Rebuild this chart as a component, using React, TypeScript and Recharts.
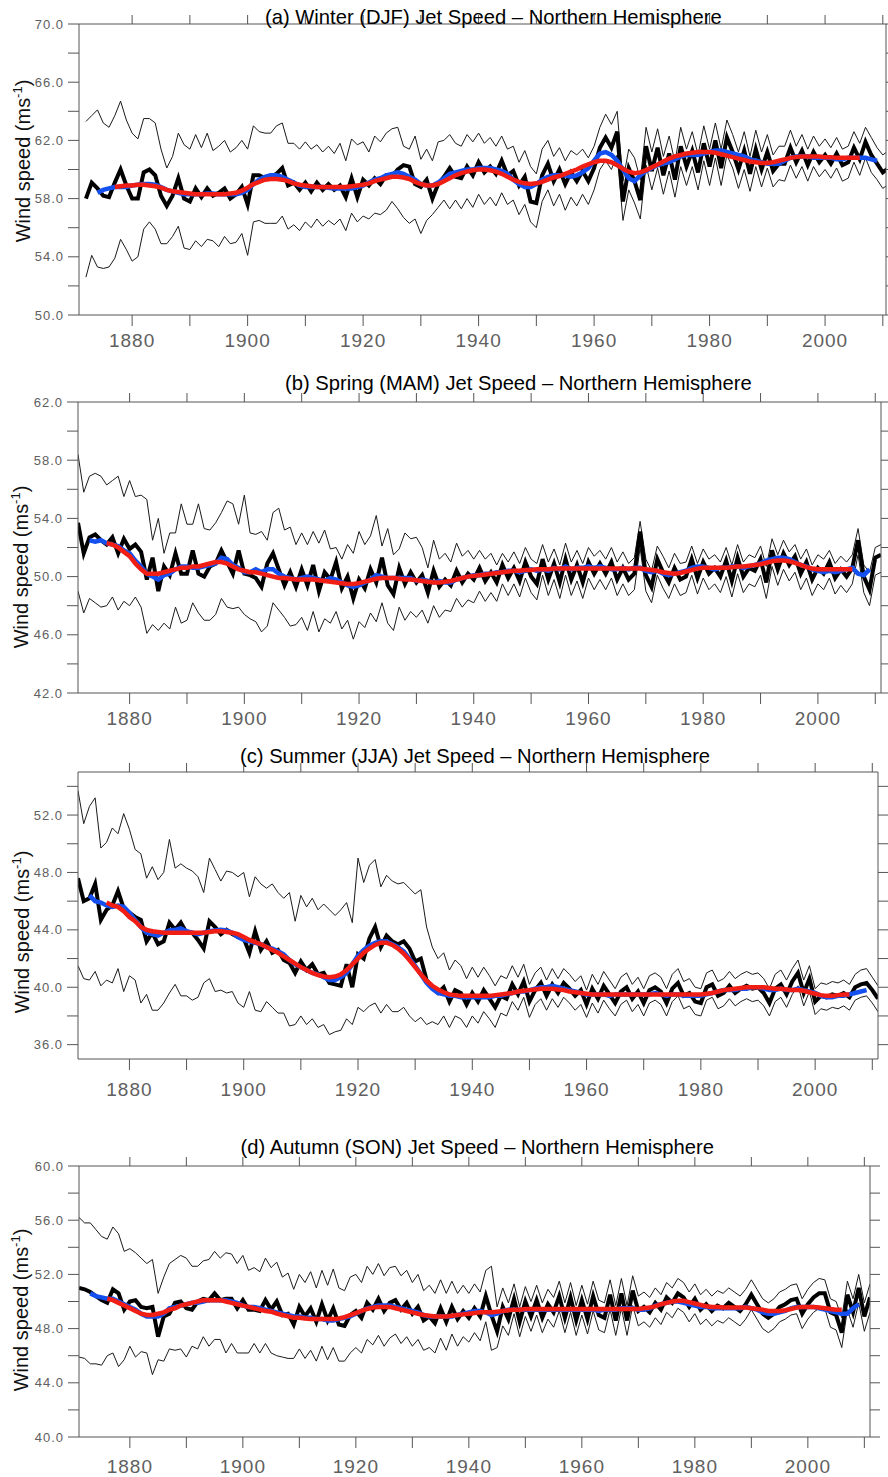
import React from 'react';
import { LineChart, Line, XAxis, YAxis } from 'recharts';

const FONT = "'Liberation Sans', Arial, Helvetica, sans-serif";
const FIRST_YEAR = 1871;
const LAST_YEAR = 2011;

const X_TICKS = [1880, 1890, 1900, 1910, 1920, 1930, 1940, 1950, 1960, 1970, 1980, 1990, 2000, 2010];
const X_LABELS = [1880, 1900, 1920, 1940, 1960, 1980, 2000];

const Y_TICKS_A = [50, 52, 54, 56, 58, 60, 62, 64, 66, 68, 70];
const Y_LABELS_A = [50, 54, 58, 62, 66, 70];
const Y_TICKS_B = [42, 44, 46, 48, 50, 52, 54, 56, 58, 60, 62];
const Y_LABELS_B = [42, 46, 50, 54, 58, 62];
const Y_TICKS_C = [36, 38, 40, 42, 44, 46, 48, 50, 52, 54];
const Y_LABELS_C = [36, 40, 44, 48, 52];
const Y_TICKS_D = [40, 42, 44, 46, 48, 50, 52, 54, 56, 58, 60];
const Y_LABELS_D = [40, 44, 48, 52, 56, 60];

const TITLE_A = '(a) Winter (DJF) Jet Speed \u2013 Northern Hemisphere';
const TITLE_B = '(b) Spring (MAM) Jet Speed \u2013 Northern Hemisphere';
const TITLE_C = '(c) Summer (JJA) Jet Speed \u2013 Northern Hemisphere';
const TITLE_D = '(d) Autumn (SON) Jet Speed \u2013 Northern Hemisphere';

// ---------------- Panel (a) Winter ----------------
const A_START = 1872;
const A_BLACK = [
  58.0, 59.1, 58.7, 58.2, 58.1, 59.1, 60.0, 58.9,
  58.0, 58.0, 59.8, 60.0, 59.6, 58.2, 57.5, 58.2, 59.4, 58.0,
  57.8, 58.7, 58.1, 58.7, 58.2, 58.4, 58.7, 58.0, 58.3, 58.8,
  57.6, 59.6, 59.6, 59.4, 59.5, 59.7, 60.1, 58.9, 59.1, 58.6,
  59.1, 58.5, 59.1, 58.6, 59.0, 58.6, 58.9, 58.1, 59.4, 58.1,
  59.3, 58.9, 59.4, 59.0, 59.6, 59.5, 60.0, 60.3, 60.2, 59.0,
  58.8, 59.3, 58.0, 59.0, 59.5, 60.1, 59.5, 59.4, 60.2, 59.6,
  60.5, 59.8, 60.2, 59.7, 60.6, 59.6, 59.9, 58.9, 59.5, 57.8,
  57.7, 59.6, 60.4, 59.2, 60.0, 59.0, 59.8, 59.2, 59.9, 59.2,
  60.1, 61.5, 62.2, 61.5, 62.6, 57.8, 60.1, 59.2, 57.9, 61.6,
  59.9, 61.5, 59.6, 61.1, 59.3, 61.6, 60.2, 61.3, 59.8, 61.8,
  60.2, 62.0, 60.1, 62.2, 61.2, 60.0, 61.3, 59.7, 61.4, 60.0,
  61.2, 59.9, 60.4, 60.4, 61.5, 60.5, 61.3, 60.3, 61.2, 60.5,
  61.0, 60.4, 61.1, 60.3, 60.5, 61.5, 60.7, 61.9, 61.0, 60.4,
  59.8, 60.1,
];
const A_UPPER = [
  63.3, 63.7, 64.1, 63.2, 62.9, 63.7, 64.7, 63.4,
  62.5, 62.1, 63.5, 63.5, 63.2, 61.4, 60.1, 60.9, 62.5, 61.7,
  61.4, 62.4, 61.5, 62.5, 61.3, 61.6, 62.0, 61.2, 61.5, 62.0,
  61.4, 63.0, 62.6, 62.5, 62.5, 63.0, 63.2, 61.8, 61.8, 61.4,
  61.9, 61.4, 61.7, 61.2, 61.6, 61.1, 61.8, 60.6, 62.1, 61.7,
  61.9, 61.2, 62.3, 61.9, 62.5, 62.8, 62.9, 61.6, 61.4, 62.3,
  60.7, 61.4, 60.6, 61.9, 62.0, 62.4, 61.8, 61.6, 62.4, 61.9,
  62.5, 61.8, 62.2, 61.6, 62.3, 61.4, 61.6, 60.5, 61.3, 60.2,
  59.7, 61.4, 62.0, 60.9, 61.5, 60.6, 61.3, 61.0, 61.4, 60.8,
  61.6, 62.9, 63.8, 63.1, 64.0, 59.2, 61.4, 60.8, 59.3, 62.9,
  61.2, 62.8, 60.9, 62.3, 60.5, 62.9, 61.4, 62.6, 61.0, 63.0,
  61.4, 63.2, 61.4, 63.4, 62.4, 61.2, 62.6, 60.9, 62.7, 61.2,
  62.4, 61.0, 61.6, 61.6, 62.7, 61.6, 62.4, 61.4, 62.3, 61.6,
  62.1, 61.5, 62.2, 61.4, 61.6, 62.6, 61.8, 62.9, 62.2, 61.5,
  61.0, 61.3,
];
const A_LOWER = [
  52.6, 54.1, 53.3, 53.2, 53.3, 53.9, 55.2, 54.5,
  53.7, 54.0, 55.9, 56.4, 55.9, 54.9, 54.9, 55.4, 56.1, 54.6,
  54.5, 55.1, 54.7, 55.2, 55.1, 54.7, 55.4, 54.9, 55.0, 55.6,
  54.1, 56.4, 56.5, 56.3, 56.3, 56.3, 56.8, 55.9, 56.2, 55.8,
  56.4, 56.0, 56.6, 56.1, 56.5, 56.2, 56.6, 55.8, 57.0, 56.4,
  56.8, 56.6, 57.0, 56.9, 57.2, 57.8, 57.3, 56.7, 56.3, 56.6,
  55.6, 56.5, 56.9, 57.4, 57.9, 57.3, 57.9, 57.3, 58.0, 57.4,
  58.3, 57.6, 58.1, 57.5, 58.4, 57.6, 57.9, 56.9, 57.6, 56.4,
  56.0, 57.8, 58.6, 57.5, 58.3, 57.2, 58.1, 57.5, 58.3, 57.6,
  58.6, 60.0, 60.6, 60.0, 61.0, 56.5, 58.6, 57.7, 56.6, 60.3,
  58.6, 60.1, 58.3, 59.9, 58.1, 60.2, 58.9, 60.2, 58.6, 60.6,
  58.9, 60.8, 58.9, 61.0, 60.1, 58.7, 60.0, 58.5, 60.2, 58.8,
  60.1, 58.8, 59.3, 59.2, 60.3, 59.4, 60.2, 59.2, 60.2, 59.5,
  60.0, 59.4, 60.1, 59.2, 59.4, 60.5, 59.6, 60.8, 59.8, 59.3,
  58.7, 59.0,
];
const A_BLUE_START = 1874;
const A_BLUE = [
  58.4, 58.6, 58.7, 58.8, 58.8, 58.8,
  58.9, 58.95, 59.0, 59.0, 58.95, 58.8, 58.6, 58.5, 58.4, 58.3,
  58.3, 58.3, 58.3, 58.35, 58.35, 58.3, 58.3, 58.3, 58.3, 58.4,
  58.6, 59.0, 59.3, 59.5, 59.6, 59.6, 59.5, 59.3, 59.1, 58.9,
  58.8, 58.8, 58.8, 58.8, 58.75, 58.7, 58.7, 58.7, 58.7, 58.8,
  58.9, 59.1, 59.3, 59.4, 59.6, 59.7, 59.8, 59.7, 59.5, 59.3,
  59.0, 58.9, 58.9, 59.1, 59.4, 59.7, 59.8, 59.9, 60.0, 60.0,
  60.1, 60.1, 60.1, 60.0, 59.9, 59.7, 59.3, 59.0, 58.8, 58.8,
  59.0, 59.3, 59.5, 59.6, 59.6, 59.6, 59.5, 59.6, 59.8, 60.1,
  60.6, 61.1, 61.2, 61.0, 60.6, 60.0, 59.4, 59.2, 59.6, 59.9,
  60.1, 60.3, 60.4, 60.5, 60.7, 60.9, 61.0, 61.0, 61.0, 61.1,
  61.2, 61.3, 61.3, 61.2, 61.1, 61.0, 60.9, 60.7, 60.6, 60.5,
  60.4, 60.4, 60.4, 60.6, 60.8, 60.9, 60.9, 60.9, 60.8, 60.8,
  60.8, 60.8, 60.7, 60.7, 60.8, 60.8, 60.8, 60.8, 60.7, 60.6,
];
const A_RED_START = 1877;
const A_RED = [
  58.8, 58.85, 58.9,
  58.9, 58.95, 58.95, 58.9, 58.85, 58.75, 58.6, 58.5, 58.45, 58.4,
  58.35, 58.3, 58.3, 58.3, 58.3, 58.3, 58.3, 58.35, 58.4, 58.55,
  58.75, 59.0, 59.15, 59.3, 59.35, 59.35, 59.3, 59.2, 59.05, 58.95,
  58.9, 58.85, 58.8, 58.8, 58.8, 58.8, 58.8, 58.8, 58.85, 58.9,
  58.95, 59.05, 59.2, 59.3, 59.4, 59.5, 59.5, 59.45, 59.35, 59.15,
  59.0, 58.9, 58.9, 59.0, 59.2, 59.4, 59.6, 59.75, 59.85, 59.95,
  60.0, 60.0, 59.95, 59.85, 59.7, 59.5, 59.3, 59.15, 59.05, 59.0,
  59.05, 59.15, 59.3, 59.45, 59.55, 59.7, 59.85, 60.0, 60.2, 60.35,
  60.5, 60.6, 60.6, 60.5, 60.3, 60.05, 59.85, 59.75, 59.8, 59.95,
  60.15, 60.35, 60.55, 60.75, 60.9, 61.0, 61.1, 61.15, 61.2, 61.2,
  61.2, 61.15, 61.05, 60.95, 60.85, 60.75, 60.65, 60.55, 60.5, 60.45,
  60.45, 60.5, 60.6, 60.7, 60.8, 60.85, 60.9, 60.9, 60.9, 60.9,
  60.85, 60.85, 60.8, 60.8, 60.8, 60.8, 60.8,
];

// ---------------- Panel (b) Spring ----------------
const B_START = 1871;
const B_BLACK = [
  53.7, 51.6, 52.7, 52.9, 52.5, 52.2, 52.7, 51.6, 52.6,
  51.9, 52.2, 51.7, 49.8, 51.3, 49.0, 50.7, 50.1, 51.6, 50.2,
  50.2, 51.8, 50.2, 50.0, 50.7, 50.9, 51.8, 51.0, 50.2, 51.8,
  50.2, 50.1, 49.9, 49.3, 50.9, 51.6, 50.5, 49.4, 50.3, 49.3,
  50.5, 49.4, 50.8, 49.0, 50.3, 49.8, 51.0, 49.2, 50.0, 48.5,
  49.8, 49.2, 50.5, 49.6, 51.3, 49.4, 48.8, 50.6, 49.5, 50.3,
  49.6, 50.1, 48.9, 50.4, 49.3, 49.8, 49.4, 50.4, 49.6, 50.2,
  49.8, 50.6, 49.7, 50.3, 49.6, 50.8, 49.9, 50.6, 49.7, 51.0,
  50.0, 49.5, 51.2, 49.8, 50.9, 49.6, 51.2, 49.8, 50.8, 49.6,
  51.0, 50.2, 50.9, 50.2, 51.0, 49.8, 50.6, 49.8, 50.2, 53.1,
  50.1, 49.3, 51.2, 50.3, 49.6, 50.6, 49.8, 50.0, 51.2, 49.9,
  51.0, 50.2, 50.6, 50.0, 51.1, 49.7, 51.3, 50.0, 50.6, 50.4,
  51.2, 49.6, 51.8, 50.5, 51.6, 50.8, 51.4, 50.2, 51.0, 49.8,
  50.6, 50.2, 51.0, 49.9, 50.5, 50.0, 50.6, 52.5, 50.0, 49.1,
  51.3, 51.5,
];
const B_UPPER = [
  58.4, 55.8, 56.9, 57.1, 56.9, 56.3, 56.6, 56.9, 55.5,
  56.6, 55.5, 55.6, 55.3, 52.5, 54.0, 51.6, 53.0, 53.0, 55.0,
  53.6, 53.6, 55.0, 53.3, 53.2, 53.7, 54.4, 55.2, 55.0, 53.6,
  55.6, 53.0, 52.9, 53.1, 52.5, 54.4, 54.7, 53.2, 53.4, 52.2,
  53.0, 52.2, 53.1, 52.3, 53.2, 51.9, 52.0, 51.2, 52.2, 51.6,
  53.1, 52.2, 52.8, 54.2, 52.1, 53.3, 51.5, 51.9, 53.0, 52.6,
  52.7, 52.0, 50.6, 52.5, 51.2, 51.6, 51.0, 52.3, 51.4, 51.8,
  51.2, 51.8, 51.2, 51.6, 50.8, 51.6, 51.0, 51.7, 50.9, 52.0,
  51.2, 50.9, 52.2, 51.0, 51.9, 50.8, 52.3, 51.0, 51.8, 50.9,
  52.0, 51.4, 51.8, 51.2, 52.0, 51.0, 51.7, 50.9, 51.3, 53.8,
  51.2, 50.4, 52.1, 51.4, 50.6, 51.6, 50.9, 51.0, 52.1, 50.9,
  51.9, 51.2, 51.5, 51.0, 52.0, 50.8, 52.2, 51.0, 51.5, 51.3,
  52.1, 50.7, 52.6, 51.5, 52.5, 51.7, 52.2, 51.2, 51.9, 50.8,
  51.5, 51.2, 51.8, 50.9, 51.4, 51.0, 51.5, 53.3, 50.8, 50.3,
  52.0, 52.2,
];
const B_LOWER = [
  49.0, 47.5, 48.5, 48.2, 47.9, 48.0, 48.6, 47.7, 48.3,
  48.0, 48.6, 47.9, 46.1, 46.7, 46.3, 46.8, 46.4, 47.9, 46.8,
  47.0, 48.2, 47.5, 47.0, 47.0, 47.4, 48.5, 47.9, 47.8, 47.9,
  47.4, 47.1, 46.9, 46.2, 46.6, 48.2, 47.7, 47.2, 46.6, 46.7,
  47.2, 46.3, 47.6, 46.2, 47.1, 46.8, 47.6, 46.4, 47.0, 45.7,
  46.9, 46.5, 47.5, 46.9, 48.2, 46.8, 46.3, 47.9, 47.0, 47.6,
  47.2, 47.7, 46.8, 48.0, 47.2, 47.7, 47.6, 48.5, 47.9, 48.4,
  48.2, 49.0, 48.3, 48.9, 48.3, 49.5, 48.7, 49.5, 48.6, 49.9,
  48.9, 48.4, 50.1, 48.7, 49.8, 48.5, 50.1, 48.7, 49.7, 48.5,
  49.9, 49.1, 49.8, 49.1, 49.9, 48.7, 49.5, 48.7, 49.1, 52.0,
  49.0, 48.2, 50.1, 49.2, 48.5, 49.5, 48.7, 48.9, 50.1, 48.8,
  49.9, 49.1, 49.5, 48.9, 50.0, 48.6, 50.2, 48.9, 49.5, 49.3,
  50.1, 48.5, 50.7, 49.4, 50.5, 49.7, 50.3, 49.1, 49.9, 48.7,
  49.5, 49.1, 49.9, 48.8, 49.4, 48.9, 49.5, 51.5, 48.9, 48.0,
  50.1, 50.3,
];
const B_BLUE_START = 1873;
const B_BLUE = [
  52.5, 52.4, 52.5, 52.3, 52.2, 52.1, 51.8,
  51.6, 51.1, 50.7, 50.2, 50.0, 49.8, 50.1, 50.2, 50.5, 50.7,
  50.7, 50.6, 50.6, 50.7, 50.8, 50.9, 51.3, 51.2, 50.8, 50.6,
  50.3, 50.3, 50.5, 50.3, 50.5, 50.5, 50.2, 50.0, 49.9, 49.8,
  49.9, 50.0, 49.9, 49.8, 49.7, 49.9, 49.8, 49.6, 49.4, 49.3,
  49.4, 49.6, 49.8, 50.1, 50.0, 49.9, 49.9, 49.9, 49.9, 49.9,
  49.7, 49.8, 49.7, 49.6, 49.7, 49.6, 49.6, 49.8, 49.9, 50.0,
  50.1, 50.1, 50.2, 50.2, 50.3, 50.3, 50.4, 50.4, 50.3, 50.4,
  50.5, 50.4, 50.5, 50.4, 50.6, 50.5, 50.7, 50.5, 50.6, 50.6,
  50.7, 50.6, 50.7, 50.6, 50.5, 50.5, 50.6, 50.5, 50.6, 50.6,
  50.4, 50.3, 50.4, 50.2, 50.1, 50.2, 50.3, 50.4, 50.6, 50.7,
  50.7, 50.6, 50.5, 50.6, 50.6, 50.7, 50.7, 50.6, 50.7, 50.8,
  50.9, 51.1, 51.2, 51.3, 51.3, 51.2, 51.0, 50.8, 50.7, 50.5,
  50.4, 50.3, 50.4, 50.3, 50.4, 50.5, 50.6, 50.2, 50.1, 50.5,
];
const B_RED_START = 1876;
const B_RED = [
  52.3, 52.2, 52.0, 51.7,
  51.4, 50.9, 50.5, 50.2, 50.2, 50.2, 50.3, 50.4, 50.5, 50.6,
  50.6, 50.7, 50.7, 50.8, 50.9, 51.0, 51.0, 50.9, 50.7, 50.5,
  50.4, 50.3, 50.3, 50.2, 50.1, 50.0, 49.9, 49.9, 49.85, 49.8,
  49.8, 49.8, 49.8, 49.75, 49.7, 49.65, 49.6, 49.55, 49.5, 49.5,
  49.55, 49.65, 49.75, 49.85, 49.9, 49.9, 49.9, 49.85, 49.8, 49.8,
  49.75, 49.7, 49.65, 49.6, 49.6, 49.65, 49.7, 49.8, 49.9, 50.0,
  50.05, 50.1, 50.15, 50.2, 50.25, 50.3, 50.35, 50.4, 50.4, 50.45,
  50.45, 50.5, 50.5, 50.5, 50.55, 50.55, 50.55, 50.55, 50.55, 50.55,
  50.55, 50.55, 50.55, 50.55, 50.55, 50.55, 50.55, 50.55, 50.55, 50.55,
  50.5, 50.45, 50.4, 50.3, 50.25, 50.2, 50.25, 50.35, 50.45, 50.55,
  50.6, 50.6, 50.6, 50.6, 50.6, 50.65, 50.7, 50.7, 50.75, 50.8,
  50.85, 50.95, 51.05, 51.1, 51.1, 51.05, 50.95, 50.8, 50.65, 50.55,
  50.5, 50.5, 50.5, 50.5, 50.5, 50.5, 50.5,
];

// ---------------- Panel (c) Summer ----------------
const C_START = 1871;
const C_BLACK = [
  47.6, 46.0, 46.2, 47.2, 44.7, 45.4, 45.7, 46.7, 45.5,
  45.2, 44.9, 44.7, 43.2, 43.8, 43.0, 43.2, 44.5, 44.0, 44.5,
  43.8, 43.8, 43.3, 42.7, 44.6, 44.2, 43.7, 44.0, 43.7, 43.5,
  43.4, 42.4, 43.9, 42.6, 43.2, 42.4, 42.6, 41.9, 41.7, 41.0,
  41.8, 41.2, 41.6, 40.9, 41.0, 40.3, 40.2, 40.1, 41.6, 40.0,
  42.3, 42.0, 43.4, 44.2, 42.8, 43.6, 43.2, 43.0, 43.2, 42.7,
  41.8, 42.0, 40.5, 40.0, 39.6, 40.0, 39.0, 39.8, 39.6, 38.8,
  39.6, 39.0, 39.8, 39.2, 38.6, 39.4, 39.2, 40.2, 39.5, 40.4,
  39.0, 39.8, 40.3, 39.4, 40.2, 39.6, 40.3, 39.9, 39.4, 39.8,
  38.8, 39.9, 39.2, 40.1, 39.5, 38.9, 39.7, 40.0, 39.2, 39.7,
  38.9, 39.8, 40.0, 39.7, 38.9, 39.9, 40.3, 39.4, 39.6, 39.0,
  38.9, 40.0, 40.2, 39.4, 39.6, 40.1, 39.6, 39.9, 40.1, 39.9,
  40.0, 39.6, 38.9, 39.9, 40.2, 39.5, 40.4, 41.0, 39.6, 40.6,
  39.0, 39.4, 39.3, 39.5, 39.4, 39.6, 39.3, 40.0, 40.2, 40.3,
  39.8, 39.2,
];
const C_UPPER = [
  53.7, 51.4, 52.6, 53.2, 49.7, 50.1, 51.1, 50.7, 52.1,
  51.0, 49.6, 49.3, 47.6, 48.4, 47.5, 48.0, 50.3, 48.3, 48.6,
  48.3, 48.1, 47.7, 46.6, 49.0, 48.2, 47.4, 48.1, 48.0, 47.7,
  48.0, 46.3, 47.7, 47.2, 46.9, 47.2, 46.6, 46.2, 46.6, 44.6,
  46.4, 45.6, 46.2, 45.4, 45.8, 45.4, 45.0, 45.4, 45.9, 44.5,
  49.0, 47.3, 48.5, 48.9, 47.0, 47.8, 47.4, 47.2, 47.3, 46.9,
  46.5, 46.8, 44.2, 42.8, 42.0, 42.4, 41.2, 41.9, 41.5, 40.6,
  41.4, 40.7, 41.4, 40.8, 40.1, 40.8, 40.6, 41.5, 40.7, 41.6,
  40.2, 41.0, 41.4, 40.5, 41.3, 40.6, 41.3, 40.9, 40.4, 40.8,
  39.8, 40.9, 40.2, 41.1, 40.5, 39.9, 40.7, 41.0, 40.2, 40.7,
  39.9, 40.8, 41.0, 40.7, 39.9, 40.9, 41.3, 40.4, 40.6, 40.0,
  39.9, 41.0, 41.2, 40.4, 40.6, 41.1, 40.6, 40.9, 41.1, 40.9,
  41.0, 40.6, 39.9, 40.9, 41.2, 40.5, 41.3, 41.9, 40.5, 41.5,
  39.9, 40.3, 40.2, 40.4, 40.3, 40.5, 40.2, 40.9, 41.2, 41.3,
  40.7, 40.1,
];
const C_LOWER = [
  41.5, 40.6, 40.5, 41.1, 40.1, 40.5, 40.3, 41.3, 39.7,
  40.8, 40.5, 38.9, 39.5, 38.4, 38.4, 38.9, 39.6, 40.2, 39.4,
  39.4, 39.1, 39.3, 40.3, 40.6, 39.7, 39.8, 39.6, 39.7, 38.9,
  38.6, 39.7, 38.4, 38.3, 39.0, 38.6, 38.2, 38.2, 37.3, 37.4,
  38.0, 37.4, 37.8, 37.2, 37.4, 36.7, 36.9, 37.0, 37.8, 37.4,
  38.6, 38.3, 38.7, 38.9, 38.2, 38.8, 38.3, 38.3, 38.6, 38.0,
  37.6, 37.9, 37.4, 37.6, 37.4, 38.0, 37.2, 38.0, 37.8, 37.2,
  38.0, 37.5, 38.3, 37.8, 37.2, 38.2, 38.0, 39.0, 38.4, 39.3,
  37.9, 38.8, 39.2, 38.4, 39.2, 38.6, 39.3, 38.9, 38.4, 38.8,
  37.9, 38.9, 38.2, 39.1, 38.5, 38.0, 38.8, 39.1, 38.3, 38.8,
  38.0, 38.9, 39.1, 38.8, 38.0, 39.0, 39.4, 38.5, 38.7, 38.1,
  38.0, 39.1, 39.3, 38.5, 38.7, 39.2, 38.7, 39.0, 39.2, 39.0,
  39.1, 38.7, 38.0, 39.0, 39.3, 38.6, 39.5, 40.1, 38.7, 39.7,
  38.1, 38.5, 38.4, 38.6, 38.5, 38.7, 38.4, 39.1, 39.3, 39.4,
  38.9, 38.3,
];
const C_BLUE_START = 1873;
const C_BLUE = [
  46.4, 46.0, 45.9, 45.7, 45.6, 45.7, 45.6,
  45.2, 44.7, 44.2, 43.8, 43.7, 43.6, 43.8, 43.95, 44.0, 44.1,
  43.9, 43.8, 43.7, 43.8, 43.9, 43.95, 44.0, 43.95, 43.8, 43.5,
  43.3, 43.2, 43.1, 43.0, 42.8, 42.7, 42.5, 42.3, 41.9, 41.6,
  41.4, 41.2, 41.0, 40.9, 40.7, 40.5, 40.5, 40.7, 41.0, 41.6,
  42.2, 42.6, 42.9, 43.1, 43.2, 43.2, 43.0, 42.8, 42.5, 42.0,
  41.5, 40.9, 40.3, 39.9, 39.6, 39.5, 39.4, 39.4, 39.3, 39.3,
  39.3, 39.3, 39.3, 39.3, 39.4, 39.4, 39.5, 39.6, 39.7, 39.7,
  39.8, 39.9, 40.0, 40.0, 40.1, 40.0, 39.9, 39.8, 39.7, 39.6,
  39.5, 39.5, 39.5, 39.5, 39.4, 39.5, 39.5, 39.5, 39.5, 39.5,
  39.5, 39.5, 39.6, 39.5, 39.4, 39.5, 39.5, 39.4, 39.4, 39.4,
  39.4, 39.5, 39.6, 39.7, 39.8, 39.8, 39.8, 39.9, 39.9, 40.0,
  40.0, 39.9, 39.8, 39.8, 39.9, 39.8, 39.8, 39.9, 39.8, 39.7,
  39.6, 39.4, 39.3, 39.3, 39.4, 39.4, 39.5, 39.6, 39.7, 39.8,
];
const C_RED_START = 1876;
const C_RED = [
  45.9, 45.7, 45.6, 45.3,
  44.9, 44.6, 44.2, 44.0, 43.9, 43.85, 43.8, 43.8, 43.8, 43.8,
  43.8, 43.8, 43.8, 43.8, 43.85, 43.9, 43.9, 43.85, 43.8, 43.7,
  43.5, 43.3, 43.15, 43.0, 42.8, 42.6, 42.4, 42.15, 41.9, 41.65,
  41.4, 41.2, 41.0, 40.85, 40.75, 40.7, 40.75, 40.9, 41.2, 41.6,
  42.0, 42.4, 42.7, 42.95, 43.1, 43.1, 42.95, 42.7, 42.35, 41.9,
  41.4, 40.9, 40.45, 40.1, 39.85, 39.65, 39.5, 39.45, 39.4, 39.4,
  39.4, 39.4, 39.4, 39.4, 39.45, 39.5, 39.55, 39.6, 39.7, 39.75,
  39.8, 39.85, 39.9, 39.9, 39.9, 39.85, 39.8, 39.7, 39.65, 39.6,
  39.55, 39.5, 39.5, 39.5, 39.5, 39.5, 39.5, 39.5, 39.5, 39.5,
  39.5, 39.5, 39.5, 39.5, 39.5, 39.5, 39.5, 39.5, 39.5, 39.5,
  39.5, 39.55, 39.6, 39.7, 39.8, 39.85, 39.9, 39.95, 40.0, 40.0,
  40.0, 40.0, 39.95, 39.9, 39.9, 39.85, 39.8, 39.8, 39.75, 39.65,
  39.55, 39.45, 39.4, 39.4, 39.45, 39.5, 39.5,
];

// ---------------- Panel (d) Autumn ----------------
const D_START = 1871;
const D_BLACK = [
  51.0, 50.9, 50.7, 50.4, 50.1, 49.9, 50.9, 50.6, 49.4,
  50.0, 50.1, 49.6, 49.5, 49.6, 47.4, 48.9, 49.1, 49.9, 50.0,
  49.5, 49.4, 50.0, 50.2, 50.1, 50.6, 50.1, 50.2, 50.2, 49.5,
  50.1, 49.4, 49.4, 49.3, 50.1, 49.4, 50.0, 49.0, 49.1, 48.3,
  49.6, 48.9, 49.5, 48.5, 49.8, 48.6, 49.5, 48.3, 48.2, 49.0,
  49.3, 48.8, 49.9, 49.4, 50.2, 49.3, 49.9, 50.1, 49.4, 49.9,
  49.1, 49.6, 48.6, 48.9, 48.4, 49.5, 48.5, 49.6, 48.7, 49.3,
  48.8, 49.5, 48.9, 50.4, 49.0, 47.8, 49.6, 48.7, 50.2, 48.5,
  50.0, 48.9, 50.1, 48.8, 49.8, 49.2, 50.4, 48.8, 50.3, 48.6,
  50.1, 48.7, 50.4, 49.0, 48.8, 50.5, 48.6, 50.6, 48.6, 50.8,
  49.3, 49.6, 49.2, 49.9, 49.4, 50.3, 49.9, 50.6, 50.3, 49.6,
  50.2, 49.4, 49.8, 49.3, 49.7, 49.5, 49.9, 49.6, 49.3, 49.8,
  50.5, 49.8, 49.1, 48.8, 49.1, 49.6, 49.8, 50.1, 50.2, 49.1,
  49.8, 50.3, 50.6, 50.6, 49.2, 49.0, 47.7, 50.5, 49.2, 51.0,
  48.9, 50.3,
];
const D_UPPER = [
  56.2, 55.8, 55.8, 55.3, 54.8, 54.6, 55.5, 55.0, 53.7,
  53.9, 53.6, 53.2, 52.8, 53.1, 50.6, 51.8, 52.8, 53.1, 53.4,
  53.2, 52.6, 52.6, 53.0, 53.1, 53.7, 53.2, 53.6, 53.5, 52.8,
  53.4, 52.3, 52.5, 52.2, 53.2, 52.5, 52.9, 51.8, 52.1, 50.9,
  52.0, 51.4, 52.2, 51.0, 52.3, 51.2, 52.4, 51.0, 50.8, 51.8,
  52.0, 51.4, 52.6, 52.0, 52.8, 51.9, 52.5, 52.6, 51.9, 52.3,
  51.4, 52.0, 50.8, 51.2, 50.6, 51.6, 50.6, 51.5, 50.6, 51.2,
  50.6, 51.3, 50.7, 52.3, 52.6, 49.6, 51.0, 49.9, 51.3, 49.6,
  51.1, 50.0, 51.2, 49.9, 50.9, 50.3, 51.5, 49.9, 51.4, 49.7,
  51.2, 49.8, 51.5, 50.1, 49.9, 51.6, 49.7, 51.7, 49.7, 51.9,
  50.4, 50.7, 50.3, 51.0, 50.5, 51.4, 51.0, 51.7, 51.4, 50.7,
  51.3, 50.5, 50.9, 50.4, 50.8, 50.6, 51.0, 50.7, 50.4, 50.9,
  51.6, 50.9, 50.2, 49.9, 50.2, 50.7, 50.9, 51.2, 51.3, 50.2,
  50.9, 51.4, 51.7, 51.6, 50.2, 50.0, 48.8, 51.5, 50.2, 52.0,
  49.9, 51.3,
];
const D_LOWER = [
  45.9, 45.8, 45.4, 45.4, 45.3, 46.0, 46.2, 45.2, 45.7,
  46.7, 45.9, 46.3, 46.2, 44.6, 45.7, 45.6, 46.5, 46.4, 46.5,
  45.9, 46.7, 46.5, 47.4, 46.7, 47.2, 47.2, 46.2, 46.9, 46.2,
  46.2, 46.2, 46.9, 46.2, 46.9, 46.2, 46.0, 45.9, 45.8, 45.8,
  46.5, 45.8, 46.4, 45.6, 46.7, 45.7, 46.6, 45.6, 45.6, 46.2,
  46.6, 46.2, 47.2, 46.8, 47.5, 46.7, 47.3, 47.6, 46.9, 47.4,
  46.7, 47.2, 46.4, 46.6, 46.2, 47.3, 46.4, 47.6, 46.7, 47.4,
  47.0, 47.7, 47.1, 48.5, 46.4, 46.6, 48.2, 47.5, 49.1, 47.4,
  48.9, 47.8, 49.0, 47.7, 48.7, 48.1, 49.3, 47.7, 49.2, 47.5,
  49.0, 47.6, 49.3, 47.9, 47.7, 49.4, 47.5, 49.5, 47.5, 49.7,
  48.2, 48.5, 48.1, 48.8, 48.3, 49.2, 48.8, 49.5, 49.2, 48.5,
  49.1, 48.3, 48.7, 48.2, 48.6, 48.4, 48.8, 48.5, 48.2, 48.7,
  49.4, 48.7, 48.0, 47.7, 48.0, 48.5, 48.7, 49.0, 49.1, 48.0,
  48.7, 49.2, 49.5, 49.5, 48.1, 47.9, 46.6, 49.4, 48.1, 49.9,
  47.8, 49.2,
];
const D_BLUE_START = 1873;
const D_BLUE = [
  50.6, 50.4, 50.3, 50.2, 50.2, 50.0, 49.8,
  49.6, 49.4, 49.1, 48.9, 48.9, 48.9, 49.1, 49.5, 49.6, 49.7,
  49.8, 49.9, 49.9, 50.0, 50.1, 50.1, 50.1, 50.1, 50.0, 49.9,
  49.7, 49.6, 49.6, 49.5, 49.4, 49.3, 49.2, 49.1, 49.0, 48.9,
  48.9, 48.8, 48.8, 48.7, 48.7, 48.6, 48.6, 48.7, 48.8, 48.9,
  49.1, 49.3, 49.5, 49.6, 49.7, 49.7, 49.7, 49.6, 49.5, 49.4,
  49.3, 49.2, 49.0, 48.9, 48.9, 48.9, 48.9, 48.9, 49.0, 49.1,
  49.2, 49.3, 49.3, 49.2, 49.0, 49.1, 49.3, 49.4, 49.4, 49.4,
  49.4, 49.4, 49.4, 49.4, 49.4, 49.4, 49.4, 49.4, 49.4, 49.4,
  49.4, 49.4, 49.4, 49.3, 49.4, 49.4, 49.4, 49.5, 49.5, 49.5,
  49.4, 49.4, 49.5, 49.7, 49.8, 49.9, 50.0, 50.0, 49.9, 49.8,
  49.7, 49.6, 49.6, 49.5, 49.5, 49.5, 49.5, 49.5, 49.5, 49.6,
  49.5, 49.4, 49.2, 49.1, 49.1, 49.2, 49.3, 49.5, 49.6, 49.6,
  49.6, 49.6, 49.5, 49.4, 49.3, 49.2, 49.1, 49.1, 49.5, 49.8,
];
const D_RED_START = 1876;
const D_RED = [
  50.2, 50.1, 49.9, 49.7,
  49.5, 49.3, 49.1, 49.0, 49.0, 49.1, 49.2, 49.4, 49.5, 49.7,
  49.8, 49.9, 50.0, 50.1, 50.1, 50.1, 50.1, 50.0, 49.9, 49.8,
  49.7, 49.6, 49.5, 49.4, 49.3, 49.25, 49.1, 49.0, 48.9, 48.8,
  48.8, 48.75, 48.7, 48.7, 48.7, 48.7, 48.7, 48.75, 48.85, 49.0,
  49.15, 49.3, 49.45, 49.55, 49.6, 49.6, 49.6, 49.5, 49.4, 49.3,
  49.2, 49.1, 49.0, 48.95, 48.9, 48.9, 48.9, 48.95, 49.0, 49.05,
  49.1, 49.15, 49.2, 49.2, 49.2, 49.25, 49.3, 49.35, 49.4, 49.4,
  49.45, 49.45, 49.45, 49.45, 49.45, 49.45, 49.45, 49.45, 49.45, 49.45,
  49.45, 49.45, 49.45, 49.45, 49.45, 49.45, 49.45, 49.45, 49.45, 49.45,
  49.45, 49.5, 49.55, 49.65, 49.8, 49.9, 50.0, 50.05, 50.05, 49.95,
  49.85, 49.75, 49.65, 49.6, 49.6, 49.55, 49.55, 49.55, 49.55, 49.55,
  49.5, 49.45, 49.4, 49.3, 49.3, 49.3, 49.35, 49.45, 49.55, 49.6,
  49.6, 49.6, 49.55, 49.5, 49.45, 49.4, 49.4,
];

type Row = {
  year: number;
  black: number | null;
  upper: number | null;
  lower: number | null;
  blue: number | null;
  red: number | null;
};

function pick(arr: number[], start: number, year: number): number | null {
  const i = year - start;
  if (i < 0 || i >= arr.length) return null;
  return arr[i];
}

function buildRows(
  start: number,
  black: number[],
  upper: number[],
  lower: number[],
  blueStart: number,
  blue: number[],
  redStart: number,
  red: number[]
): Row[] {
  const rows: Row[] = [];
  for (let y = FIRST_YEAR; y <= LAST_YEAR; y++) {
    rows.push({
      year: y,
      black: pick(black, start, y),
      upper: pick(upper, start, y),
      lower: pick(lower, start, y),
      blue: pick(blue, blueStart, y),
      red: pick(red, redStart, y),
    });
  }
  return rows;
}

const ROWS_A = buildRows(A_START, A_BLACK, A_UPPER, A_LOWER, A_BLUE_START, A_BLUE, A_RED_START, A_RED);
const ROWS_B = buildRows(B_START, B_BLACK, B_UPPER, B_LOWER, B_BLUE_START, B_BLUE, B_RED_START, B_RED);
const ROWS_C = buildRows(C_START, C_BLACK, C_UPPER, C_LOWER, C_BLUE_START, C_BLUE, C_RED_START, C_RED);
const ROWS_D = buildRows(D_START, D_BLACK, D_UPPER, D_LOWER, D_BLUE_START, D_BLUE, D_RED_START, D_RED);

type PanelProps = {
  rows: Row[];
  top: number;
  plotTop: number;
  plotBottom: number;
  plotLeft: number;
  plotRight: number;
  xDomain: [number, number];
  yDomain: [number, number];
  yTicks: number[];
  yLabels: number[];
  xLabelOffset: number;
};

const AXIS_COLOR = '#555555';
const TICK_TEXT = '#606060';

function Panel(p: PanelProps) {
  const topH = p.plotTop - p.top;
  const bottomH = 50;
  const height = p.plotBottom - p.top + bottomH;
  const plotBottomLocal = p.plotBottom - p.top;

  const xTick = (props: any) => {
    const v = props && props.payload ? props.payload.value : null;
    if (!X_LABELS.includes(v)) return <g />;
    return (
      <text
        x={props.x}
        y={plotBottomLocal + p.xLabelOffset}
        textAnchor="middle"
        fontSize={19}
        fill={TICK_TEXT}
        fontFamily={FONT}
        letterSpacing={1}
      >
        {String(v)}
      </text>
    );
  };
  const yTick = (props: any) => {
    const v = props && props.payload ? props.payload.value : null;
    if (!p.yLabels.includes(v)) return <g />;
    return (
      <text
        x={p.plotLeft - 15}
        y={props.y + 4.5}
        textAnchor="end"
        fontSize={13}
        fill={TICK_TEXT}
        fontFamily={FONT}
        letterSpacing={1}
      >
        {Number(v).toFixed(1)}
      </text>
    );
  };
  const empty = () => <g />;

  return (
    <div style={{ position: 'absolute', left: 0, top: p.top, width: 888, height }}>
      <LineChart width={888} height={height} data={p.rows} margin={{ top: 0, right: 0, bottom: 0, left: 0 }}>
        <XAxis
          xAxisId="b"
          orientation="bottom"
          dataKey="year"
          type="number"
          domain={p.xDomain}
          allowDataOverflow
          ticks={X_TICKS}
          interval={0}
          height={bottomH}
          stroke={AXIS_COLOR}
          tickSize={11}
          tickMargin={0}
          tick={xTick}
        />
        <XAxis
          xAxisId="t"
          orientation="top"
          dataKey="year"
          type="number"
          domain={p.xDomain}
          allowDataOverflow
          ticks={X_TICKS}
          interval={0}
          height={topH}
          stroke={AXIS_COLOR}
          tickSize={9}
          tick={empty}
        />
        <YAxis
          yAxisId="l"
          orientation="left"
          type="number"
          domain={p.yDomain}
          allowDataOverflow
          ticks={p.yTicks}
          interval={0}
          width={p.plotLeft}
          stroke={AXIS_COLOR}
          tickSize={11}
          tick={yTick}
        />
        <YAxis
          yAxisId="r"
          orientation="right"
          type="number"
          domain={p.yDomain}
          allowDataOverflow
          ticks={p.yTicks}
          interval={0}
          width={888 - p.plotRight}
          stroke={AXIS_COLOR}
          tickSize={10}
          tick={empty}
        />
        <Line xAxisId="b" yAxisId="l" type="linear" dataKey="upper" stroke="#1a1a1a" strokeWidth={1} dot={false} activeDot={false} isAnimationActive={false} />
        <Line xAxisId="b" yAxisId="l" type="linear" dataKey="lower" stroke="#1a1a1a" strokeWidth={1} dot={false} activeDot={false} isAnimationActive={false} />
        <Line xAxisId="b" yAxisId="l" type="linear" dataKey="black" stroke="#000000" strokeWidth={4} dot={false} activeDot={false} isAnimationActive={false} />
        <Line xAxisId="b" yAxisId="l" type="linear" dataKey="blue" stroke="#1450f0" strokeWidth={4.5} dot={false} activeDot={false} isAnimationActive={false} />
        <Line xAxisId="b" yAxisId="l" type="linear" dataKey="red" stroke="#f01e14" strokeWidth={4.5} dot={false} activeDot={false} isAnimationActive={false} />
      </LineChart>
    </div>
  );
}

function YLabel({ x, y }: { x: number; y: number }) {
  return (
    <text
      transform={`translate(${x},${y}) rotate(-90)`}
      textAnchor="middle"
      fontSize={20}
      fill="#111"
      fontFamily={FONT}
    >
      Wind speed (ms
      <tspan dy={-8} fontSize={13}>-1</tspan>
      <tspan dy={8}>)</tspan>
    </text>
  );
}

function Title({ x, y, text }: { x: number; y: number; text: string }) {
  return (
    <text x={x} y={y} fontSize={20.2} fill="#000" fontFamily={FONT}>
      {text}
    </text>
  );
}

export default function App() {
  return (
    <div style={{ position: 'absolute', left: 0, top: 0, width: 888, height: 1477, background: '#fff', overflow: 'hidden' }}>
      <Panel
        rows={ROWS_A}
        top={0}
        plotTop={24}
        plotBottom={315}
        plotLeft={79}
        plotRight={886}
        xDomain={[1870.8, 2010.55]}
        yDomain={[50, 70]}
        yTicks={Y_TICKS_A}
        yLabels={Y_LABELS_A}
        xLabelOffset={32}
      />
      <Panel
        rows={ROWS_B}
        top={380}
        plotTop={402}
        plotBottom={693}
        plotLeft={78}
        plotRight={881}
        xDomain={[1871, 2011]}
        yDomain={[42, 62]}
        yTicks={Y_TICKS_B}
        yLabels={Y_LABELS_B}
        xLabelOffset={32}
      />
      <Panel
        rows={ROWS_C}
        top={750}
        plotTop={772}
        plotBottom={1059}
        plotLeft={78}
        plotRight={878}
        xDomain={[1871, 2011]}
        yDomain={[35, 55]}
        yTicks={Y_TICKS_C}
        yLabels={Y_LABELS_C}
        xLabelOffset={37}
      />
      <Panel
        rows={ROWS_D}
        top={1144}
        plotTop={1166}
        plotBottom={1437}
        plotLeft={79}
        plotRight={870}
        xDomain={[1871, 2011]}
        yDomain={[40, 60]}
        yTicks={Y_TICKS_D}
        yLabels={Y_LABELS_D}
        xLabelOffset={36}
      />
      <svg
        width={888}
        height={1477}
        style={{ position: 'absolute', left: 0, top: 0, pointerEvents: 'none' }}
      >
        <Title x={265} y={23.5} text={TITLE_A} />
        <Title x={285} y={390} text={TITLE_B} />
        <Title x={240} y={763} text={TITLE_C} />
        <Title x={240.5} y={1154} text={TITLE_D} />
        <YLabel x={30} y={161} />
        <YLabel x={28} y={567} />
        <YLabel x={29} y={932} />
        <YLabel x={27.5} y={1310} />
      </svg>
    </div>
  );
}
